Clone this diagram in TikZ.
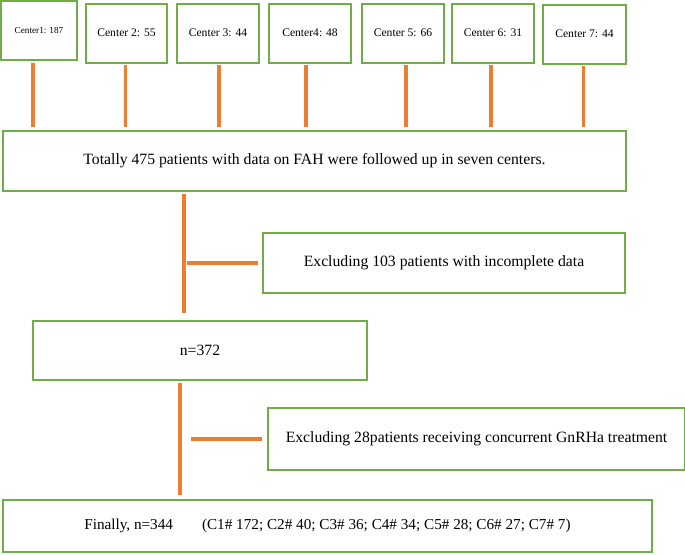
\documentclass[tikz,border=0pt]{standalone}
\usepackage{fontspec}
\setmainfont{Liberation Serif}
\usepackage{tikz}
\usetikzlibrary{positioning,calc}
\definecolor{boxgreen}{RGB}{112,173,71}
\definecolor{lineorange}{RGB}{237,125,49}

\begin{document}
\begin{tikzpicture}[x=1pt,y=-1pt]
\tikzset{ctr/.style={draw=boxgreen,line width=2pt,fill=white,inner sep=2pt,minimum width=82pt,minimum height=59pt,font=\fontsize{11.6}{13}\selectfont},
  flow/.style={draw=boxgreen,line width=2pt,fill=white,inner sep=3pt,font=\fontsize{15.7}{18}\selectfont},
  link/.style={draw=lineorange,line width=3.2pt}}
\useasboundingbox (0,0) rectangle (685,554);
% centres along the top
\node[ctr,minimum width=76pt,font=\fontsize{9.2}{10}\selectfont] (c1) at (39,30.5) {Center1: 187};
\node[ctr,minimum width=81pt] (c2) at (126.5,33) {Center 2: 55};
\node[ctr] (c3) at (218,33) {Center 3: 44};
\node[ctr] (c4) at (310,33) {Center4: 48};
\node[ctr] (c5) at (403,33) {Center 5: 66};
\node[ctr] (c6) at (493,33) {Center 6: 31};
\node[ctr,minimum width=83pt] (c7) at (584.5,34) {Center 7: 44};
% flow
\node[flow,minimum width=623pt,minimum height=60pt] (total) at (314.5,161) {Totally 475 patients with data on FAH were followed up in seven centers.};
\node[flow,minimum width=362pt,minimum height=60pt] (excl1) at (444,263) {Excluding 103 patients with incomplete data};
\node[flow,minimum width=334pt,minimum height=59pt] (n372) at (200,350.5) {n=372};
\node[flow,minimum width=417pt,minimum height=62pt] (excl2) at (476.5,439) {Excluding 28patients receiving concurrent GnRHa treatment};
\node[flow,minimum width=649pt,minimum height=52pt,font=\fontsize{15.2}{18}\selectfont] (final) at (327.5,526) {Finally, n=344\hspace{29pt}(C1\# 172; C2\# 40; C3\# 36; C4\# 34; C5\# 28; C6\# 27; C7\# 7)};
\coordinate (t1) at (184,0);
\coordinate (t2) at (180,0);
\foreach \n/\dx in {c1/-6,c2/-1,c3/1,c4/-4,c5/3,c6/-2,c7/-1}{\draw[link,shorten <=1.5pt,shorten >=3pt] ([xshift=\dx pt]\n.south) -- ([xshift=\dx pt]\n.south |- total.north);}
\draw[link,shorten <=2pt,shorten >=7pt] (t1 |- total.south) -- (t1 |- n372.north);
\draw[link,shorten <=3pt,shorten >=4pt] (t1 |- excl1.west) -- (excl1.west);
\draw[link,shorten <=2pt,shorten >=4pt] (t2 |- n372.south) -- (t2 |- final.north);
\draw[link,shorten <=11pt,shorten >=5pt] (t2 |- excl2.west) -- (excl2.west);
\end{tikzpicture}
\end{document}
